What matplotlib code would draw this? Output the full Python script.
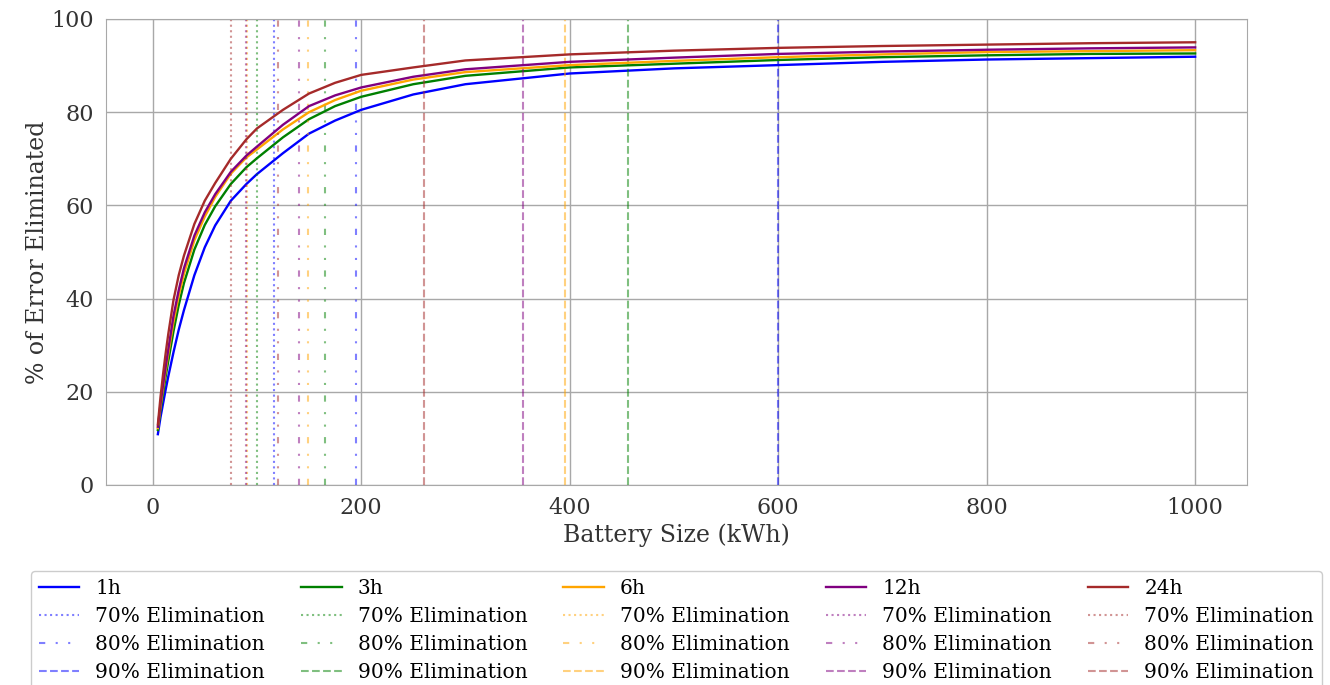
import matplotlib
matplotlib.use("Agg")
import matplotlib.pyplot as plt

plt.rcParams['font.family'] = ['DejaVu Serif']

# battery sizes (kWh) where the curves were read
battery = [5, 7.5, 10, 12.5, 15, 20, 25, 30, 40, 50, 60, 75, 90, 100, 125, 150,
           175, 200, 250, 300, 400, 500, 600, 700, 800, 900, 1000]

err_1h = [10.9, 14.5, 17.5, 20.5, 23.3, 28.5, 33.3, 37.5, 45.0, 51.0, 55.7, 61.0,
          64.6, 66.7, 71.2, 75.4, 78.2, 80.5, 83.8, 86.0, 88.3, 89.4, 90.1, 90.8,
          91.3, 91.6, 91.9]
err_3h = [11.8, 16.0, 19.7, 23.3, 26.6, 33.0, 38.6, 43.3, 50.5, 55.8, 59.8, 64.6,
          68.2, 70.1, 74.6, 78.5, 81.3, 83.3, 86.0, 87.8, 89.6, 90.4, 91.2, 91.8,
          92.2, 92.5, 92.6]
err_6h = [12.2, 16.8, 20.8, 24.6, 28.2, 35.0, 40.6, 45.3, 52.5, 57.6, 61.8, 66.8,
          70.3, 72.0, 76.3, 80.0, 82.6, 84.6, 87.0, 88.6, 90.1, 91.0, 91.8, 92.4,
          92.9, 93.1, 93.3]
err_12h = [12.5, 17.3, 21.5, 25.4, 29.1, 36.3, 41.8, 46.5, 53.5, 58.5, 62.4, 67.2,
           70.7, 72.6, 77.3, 81.3, 83.6, 85.3, 87.6, 89.2, 90.8, 91.7, 92.5, 93.0,
           93.4, 93.7, 93.9]
err_24h = [13.0, 18.8, 23.8, 28.3, 32.4, 39.7, 45.0, 49.2, 56.0, 61.0, 64.8, 70.0,
           74.2, 76.5, 80.5, 84.0, 86.3, 88.0, 89.6, 91.1, 92.4, 93.2, 93.8, 94.2,
           94.5, 94.8, 95.0]

labels = ['1h', '3h', '6h', '12h', '24h']
colors = ['blue', 'green', 'orange', 'purple', 'brown']
curves = [err_1h, err_3h, err_6h, err_12h, err_24h]

# battery size needed for 70 / 80 / 90 % elimination
elim_70 = [116, 100.5, 90.5, 89.5, 75.5]
elim_80 = [195, 165.5, 149, 140, 120.5]
elim_90 = [600, 455.5, 396, 355, 260]

levels = ['70% Elimination', '80% Elimination', '90% Elimination']
styles = [':', (0, (3, 5, 1, 5, 1, 5)), '--']

fig = plt.figure(figsize=(13.3, 6.85), dpi=100)
ax = fig.add_axes([0.0797, 0.292, 0.8579, 0.6803])

for i in range(len(labels)):
    ax.plot(battery, curves[i], color=colors[i], lw=1.7, label=labels[i])
    marks = [elim_70[i], elim_80[i], elim_90[i]]
    for j in range(3):
        ax.axvline(marks[j], color=colors[i], ls=styles[j], lw=1.5, alpha=0.5,
                   label=levels[j])

ax.set_ylim(0, 100)
ax.set_xticks([0, 200, 400, 600, 800, 1000])
ax.set_yticks([0, 20, 40, 60, 80, 100])
ax.grid(True, color='#a8a8a8', lw=1.0)
ax.set_axisbelow(True)
for s in ax.spines.values():
    s.set_color('#a8a8a8')
ax.tick_params(length=0, labelsize=16, labelcolor='#333333', pad=9)
ax.set_xlabel('Battery Size (kWh)', fontsize=17, color='#333333', labelpad=3)
ax.set_ylabel('% of Error Eliminated', fontsize=17, color='#333333', labelpad=1)

ax.legend(loc='upper center', bbox_to_anchor=(0.5, -0.162), ncol=5,
          fontsize=14.5, columnspacing=1.8, labelspacing=0.45,
          edgecolor='#cccccc', framealpha=1)

fig.savefig('out.png', dpi=100)
